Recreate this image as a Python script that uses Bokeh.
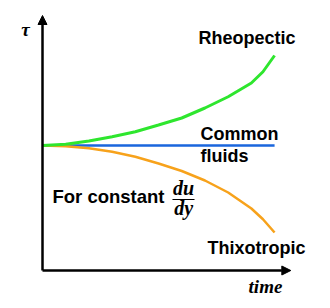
from bokeh.plotting import figure
from bokeh.models import Range1d, Arrow, NormalHead
from bokeh.core.properties import value
from bokeh.embed import file_html
from bokeh.resources import INLINE

# ---- data ----
time = [0, 1, 2, 3, 4, 5, 6, 7, 8, 9, 9.5, 10]
rheopectic = [5.0, 5.05, 5.18, 5.35, 5.55, 5.82, 6.1, 6.5, 6.95, 7.5, 7.95, 8.6]
common = [5.0] * len(time)
thixotropic = [5.0, 4.97, 4.89, 4.75, 4.55, 4.28, 3.98, 3.6, 3.12, 2.48, 2.05, 1.52]

time_axis_end = 10.7
tau_axis_end = 10.2

labels = ["Rheopectic", "Common", "fluids", "Thixotropic"]
label_t = [6.72, 6.81, 6.81, 7.11]
label_tau = [9.32, 5.48, 4.6, 0.92]

p = figure(width=330, height=308, output_backend="svg", toolbar_location=None,
           x_range=Range1d(-1.81, 12.41), y_range=Range1d(-1.52, 10.8),
           min_border=0, min_border_left=0, min_border_right=0,
           min_border_top=0, min_border_bottom=0)
p.axis.visible = False
p.grid.visible = False
p.outline_line_color = None
p.background_fill_color = "white"
p.border_fill_color = "white"

# axes as arrows
p.add_layout(Arrow(end=NormalHead(size=9, fill_color="black", line_color="black", line_width=1),
                   x_start=0, y_start=0, x_end=0, y_end=tau_axis_end,
                   line_width=2.5, line_color="black"))
p.add_layout(Arrow(end=NormalHead(size=9, fill_color="black", line_color="black", line_width=1),
                   x_start=0, y_start=0, x_end=time_axis_end, y_end=0,
                   line_width=2.5, line_color="black"))

# curves
p.line(time, common, line_color="#1a66dd", line_width=2.5)
p.line(time, thixotropic, line_color="#f7a21b", line_width=2.5)
p.line(time, rheopectic, line_color="#2ee62e", line_width=3)

# labels
p.text(x=label_t, y=label_tau, text=labels, text_font=value("Liberation Sans"),
       text_font_style="bold", text_font_size="18px", text_color="black",
       text_baseline="alphabetic", text_align="left")
p.text(x=[0.43], y=[2.95], text=["For constant"], text_font=value("Liberation Sans"),
       text_font_style="bold", text_font_size="18.5px", text_color="black",
       text_baseline="alphabetic", text_align="left")

# fraction du/dy
p.text(x=[6.08, 6.08], y=[3.3, 2.5], text=["du", "dy"], text_font=value("Liberation Serif"),
       text_font_style="bold italic", text_font_size="20px", text_color="black",
       text_baseline="alphabetic", text_align="center")
p.line([5.6, 6.55], [2.84, 2.84], line_color="black", line_width=1.2)

# axis titles
p.text(x=[-0.73], y=[9.64], text=["τ"], text_font=value("Liberation Serif"),
       text_font_style="bold italic", text_font_size="19px", text_color="black",
       text_baseline="alphabetic", text_align="center")
p.text(x=[8.88], y=[-0.64], text=["time"], text_font=value("Liberation Serif"),
       text_font_style="bold italic", text_font_size="19px", text_color="black",
       text_baseline="alphabetic", text_align="left")

open("out.html", "w").write(file_html(p, INLINE))
